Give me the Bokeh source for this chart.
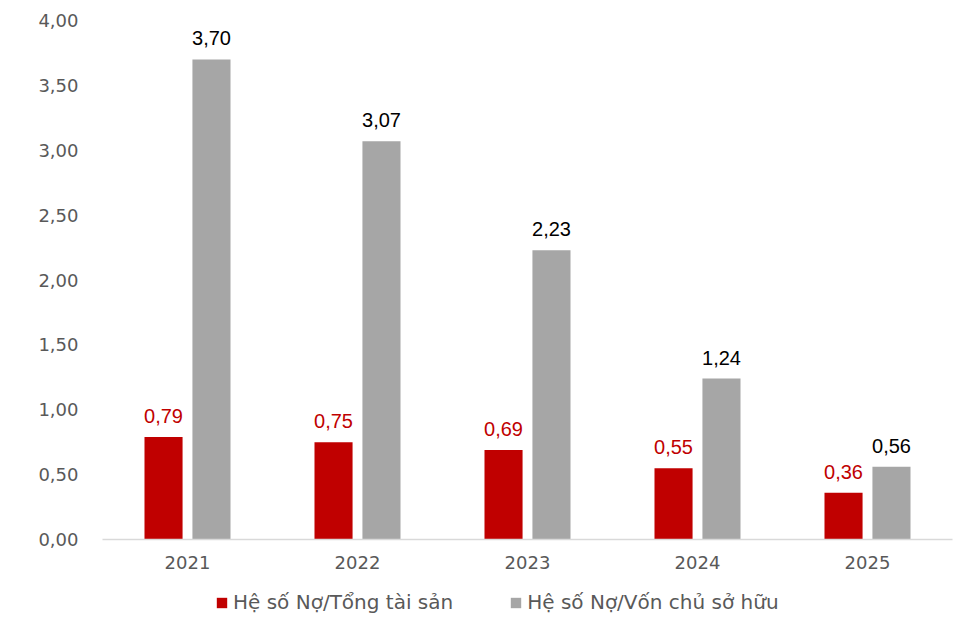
from bokeh.plotting import figure
from bokeh.models import ColumnDataSource, CustomJSTickFormatter, Legend, LegendItem, FactorRange
from bokeh.layouts import column
from bokeh.transform import dodge
from bokeh.core.properties import value
from bokeh.embed import file_html
from bokeh.resources import INLINE

years = ["2021", "2022", "2023", "2024", "2025"]
debt_assets = [0.79, 0.75, 0.69, 0.55, 0.36]
debt_equity = [3.70, 3.07, 2.23, 1.24, 0.56]
name_a = "Hệ số Nợ/Tổng tài sản"
name_b = "Hệ số Nợ/Vốn chủ sở hữu"

def fmt(v):
    return f"{v:.2f}".replace(".", ",")

src = ColumnDataSource(dict(
    year=years,
    a=debt_assets,
    b=debt_equity,
    la=[fmt(v) for v in debt_assets],
    lb=[fmt(v) for v in debt_equity],
))

RED = "#C00000"
GRAY = "#A6A6A6"
TXT = "#595959"
TICKFONT = "DejaVu Sans"

p = figure(frame_width=850, frame_height=519, x_range=FactorRange(*years), y_range=(0, 4.0),
           output_backend="svg", toolbar_location=None,
           min_border_left=102, min_border_right=8, min_border_top=20, min_border_bottom=45)
p.x_range.range_padding = 0
p.outline_line_color = None
p.background_fill_color = "white"

ra = p.vbar(x=dodge("year", -0.141, range=p.x_range), top="a", width=0.224, source=src,
            fill_color=RED, line_color=None)
rb = p.vbar(x=dodge("year", 0.141, range=p.x_range), top="b", width=0.224, source=src,
            fill_color=GRAY, line_color=None)

p.text(x=dodge("year", -0.141, range=p.x_range), y="a", text="la", source=src,
       text_align="center", text_baseline="middle", y_offset=-21,
       text_font=value("Liberation Sans"), text_font_size="20px", text_color=RED)
p.text(x=dodge("year", 0.141, range=p.x_range), y="b", text="lb", source=src,
       text_align="center", text_baseline="middle", y_offset=-21,
       text_font=value("Liberation Sans"), text_font_size="20px", text_color="#000000")

p.xgrid.visible = False
p.ygrid.visible = False

p.yaxis.ticker = [0, 0.5, 1.0, 1.5, 2.0, 2.5, 3.0, 3.5, 4.0]
p.yaxis.formatter = CustomJSTickFormatter(code="return tick.toFixed(2).replace('.', ',');")
p.yaxis.axis_line_color = None
p.yaxis.major_tick_line_color = None
p.yaxis.minor_tick_line_color = None
p.yaxis.major_label_text_font = TICKFONT
p.yaxis.major_label_text_font_size = "18px"
p.yaxis.major_label_text_color = TXT
p.yaxis.major_label_standoff = 18

p.xaxis.axis_line_color = "#D9D9D9"
p.xaxis.axis_line_width = 1.5
p.xaxis.major_tick_line_color = None
p.xaxis.minor_tick_line_color = None
p.xaxis.major_label_text_font = TICKFONT
p.xaxis.major_label_text_font_size = "18px"
p.xaxis.major_label_text_color = TXT
p.xaxis.major_label_standoff = 10

# Legend strip below the chart (its bars sit outside the strip's visible y range)
lg = figure(frame_width=850, height=33, x_range=FactorRange(*years), y_range=(10, 11),
            output_backend="svg", toolbar_location=None,
            min_border_left=102, min_border_right=8, min_border_top=0, min_border_bottom=0)
lg.axis.visible = False
lg.grid.visible = False
lg.outline_line_color = None
da = lg.vbar(x="year", top="a", width=0.2, source=src, fill_color=RED, line_color=None)
db = lg.vbar(x="year", top="b", width=0.2, source=src, fill_color=GRAY, line_color=None)

legend = Legend(items=[LegendItem(label=name_a, renderers=[da]),
                       LegendItem(label=name_b, renderers=[db])],
                orientation="horizontal", location=(113, 3),
                label_text_font=TICKFONT, label_text_font_size="20px",
                label_text_color=TXT, glyph_width=13, glyph_height=13,
                label_height=21, spacing=56, label_standoff=5, border_line_color=None,
                padding=0, margin=0, background_fill_alpha=0)
lg.add_layout(legend, "center")

layout = column(p, lg, spacing=0)
open("out.html", "w").write(file_html(layout, INLINE))
